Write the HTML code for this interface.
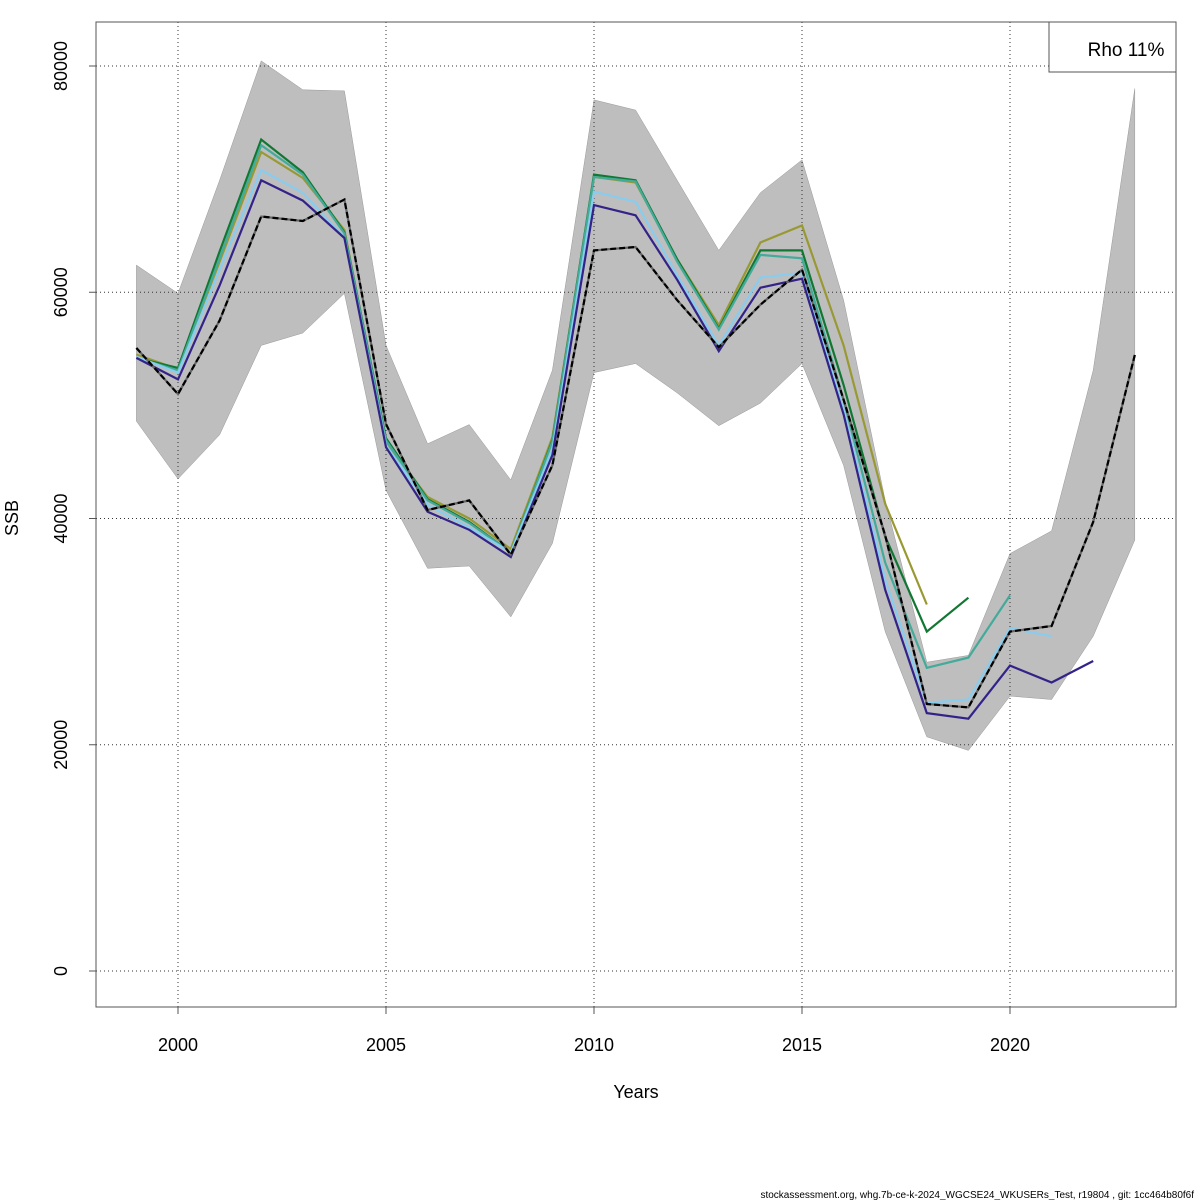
<!DOCTYPE html>
<html><head><meta charset="utf-8"><style>
body{margin:0;background:#fff;}
svg{display:block;font-family:"Liberation Sans",sans-serif;}
</style></head><body>
<svg id="chart" width="1200" height="1200"></svg>
<script>
const years = [1999,2000,2001,2002,2003,2004,2005,2006,2007,2008,2009,2010,2011,2012,2013,2014,2015,2016,2017,2018,2019,2020,2021,2022,2023];
const base = [55070,51000,57500,66700,66300,68200,48350,40750,41600,36800,44700,63700,64000,59300,55150,58900,62000,50500,38500,23600,23300,30000,30500,39700,54450];
const upper = [62400,59900,69900,80450,77900,77800,55300,46600,48300,43400,53100,77000,76100,69900,63700,68800,71700,59300,41600,27300,27900,36900,38900,53100,78000];
const lower = [48600,43500,47400,55300,56400,59900,42500,35600,35800,31300,37800,52900,53700,51100,48200,50200,53700,44700,30000,20700,19500,24300,24000,29600,38100];
const peel2022 = [54200,52300,60600,69900,68100,64800,46300,40600,39000,36600,45600,67700,66800,61100,54800,60400,61200,49200,33700,22800,22300,27000,25500,27400];
const peel2021 = [54300,52900,62000,70800,68800,64800,46500,41200,39200,37000,46100,68900,68000,61500,55300,61300,61700,49600,34600,23700,24000,30300,29600];
const peel2020 = [54200,53100,63000,73000,70400,65200,46900,41600,39600,37000,46800,70200,69800,62700,56700,63300,63000,50500,36100,26800,27700,33200];
const peel2019 = [54200,53300,63600,73500,70600,65300,47100,41700,39700,37000,46900,70400,69900,62900,56800,63700,63700,51800,38400,30000,33000];
const peel2018 = [54500,53200,62700,72400,70100,65500,46700,41900,40000,37300,47200,70200,69700,62900,57100,64400,65900,55300,41300,32400];
const xTicks = [2000,2005,2010,2015,2020];
const yTicks = [0,20000,40000,60000,80000];

const NS="http://www.w3.org/2000/svg";
const svg=document.getElementById('chart');
const X=y=>178+(y-2000)*41.6;
const Y=v=>971-v*0.0113125;
function mk(t,a,p){const e=document.createElementNS(NS,t);for(const k in a)e.setAttribute(k,a[k]);(p||svg).appendChild(e);return e;}
const pts=(arr)=>arr.map((v,i)=>X(years[i]).toFixed(1)+','+Y(v).toFixed(1)).join(' ');

const band=mk('polygon',{points:pts(upper)+' '+lower.map((v,i)=>[X(years[i]),Y(v)]).reverse().map(p=>p[0].toFixed(1)+','+p[1].toFixed(1)).join(' '),fill:'#bebebe',stroke:'#999','stroke-width':0.5});



xTicks.forEach(t=>{const g=mk('line',{x1:X(t),x2:X(t),y1:22,y2:1007,stroke:'#333','stroke-width':1,'stroke-dasharray':'1,3'});

});
yTicks.forEach(t=>{const g=mk('line',{x1:96,x2:1176,y1:Y(t),y2:Y(t),stroke:'#333','stroke-width':1,'stroke-dasharray':'1,3'});

});

const series=[[peel2018,'#999933','peel-2018'],[peel2019,'#117733','peel-2019'],[peel2020,'#44AA99','peel-2020'],[peel2021,'#88CCEE','peel-2021'],[peel2022,'#332288','peel-2022']];
series.forEach(s=>{const l=mk('polyline',{points:pts(s[0]),fill:'none',stroke:s[1],'stroke-width':2.2});

});
const bu=mk('polyline',{points:pts(base),fill:'none',stroke:'#666','stroke-width':2.2});


const bl=mk('polyline',{points:pts(base),fill:'none',stroke:'#000','stroke-width':2.2,'stroke-dasharray':'6,3'});



const fr=mk('rect',{x:96,y:22,width:1080,height:985,fill:'none',stroke:'#555','stroke-width':1});



xTicks.forEach(t=>{mk('line',{x1:X(t),x2:X(t),y1:1007,y2:1014,stroke:'#555'});
const tx=mk('text',{x:X(t),y:1051,'text-anchor':'middle','font-size':18});tx.textContent=t;

});
yTicks.forEach(t=>{mk('line',{x1:89,x2:96,y1:Y(t),y2:Y(t),stroke:'#555'});
const tx=mk('text',{x:67,y:Y(t),'text-anchor':'middle','font-size':18,transform:`rotate(-90 67 ${Y(t)})`});tx.textContent=t;

});

const xt=mk('text',{x:636,y:1098,'text-anchor':'middle','font-size':18});xt.textContent='Years';


const yt=mk('text',{x:18,y:518,'text-anchor':'middle','font-size':18,transform:'rotate(-90 18 518)'});yt.textContent='SSB';



const lg=mk('rect',{x:1049,y:22,width:127,height:50,fill:'#fff',stroke:'#555'});


const lt=mk('text',{x:1126,y:56,'text-anchor':'middle','font-size':19});lt.textContent='Rho 11%';



const ft=mk('text',{x:1194,y:1198,'text-anchor':'end','font-size':10});ft.textContent='stockassessment.org, whg.7b-ce-k-2024_WGCSE24_WKUSERs_Test, r19804 , git: 1cc464b80f6f';


</script>
</body></html>
